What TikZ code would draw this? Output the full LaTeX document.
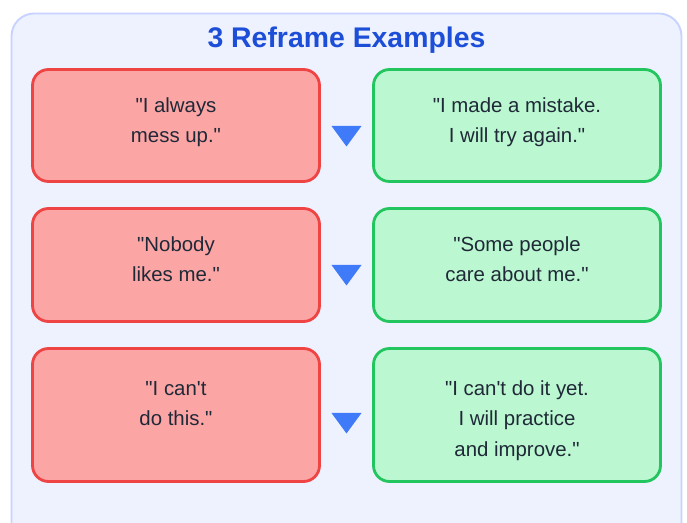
\documentclass[tikz,border=0pt]{standalone}
\usepackage{fontspec}
\setmainfont{Liberation Sans}[Ligatures=TeXOff]
\definecolor{panelfill}{HTML}{EEF2FF}
\definecolor{panelline}{HTML}{C7D2FE}
\definecolor{negfill}{HTML}{FCA5A5}
\definecolor{negline}{HTML}{EF4444}
\definecolor{posfill}{HTML}{BBF7D0}
\definecolor{posline}{HTML}{22C55E}
\definecolor{titleblue}{HTML}{1D4ED8}
\definecolor{arrowblue}{HTML}{3F7AF8}
\definecolor{bodytext}{HTML}{1F2937}
\newcommand{\firstline}{\rule{0pt}{12pt}}
\tikzset{
  card/.style={rounded corners=12pt, line width=2.1pt, minimum width=215.25pt,
    inner sep=0pt},
  negcard/.style={card, fill=negfill, draw=negline},
  poscard/.style={card, fill=posfill, draw=posline},
  cardtext/.style={anchor=north, align=center, inner sep=0pt, text=bodytext,
    font=\fontsize{15.3}{22.9}\selectfont},
  pointer/.style={fill=arrowblue, draw=none},
}
\begin{document}
\begin{tikzpicture}[x=0.75pt, y=-0.75pt]
\useasboundingbox (0,0) rectangle (687,523);
% background panel
\draw[fill=panelfill, draw=panelline, line width=1.4pt, rounded corners=17pt]
  (11.5,13.5) rectangle (681.5,560);
\node[anchor=base, font=\fontsize{21.3}{26}\selectfont\bfseries, text=titleblue]
  (title) at (346.5,48) {3 Reframe Examples};
% left column: unhelpful thoughts
\node[negcard, minimum height=84pt]    (n1) at (176,125.5) {};
\node[negcard, minimum height=84.75pt] (n2) at (176,265)   {};
\node[negcard, minimum height=99.75pt] (n3) at (176,415)   {};
\node[cardtext] (n1t) at (176,96)  {\firstline"I always\\mess up."};
\node[cardtext] (n2t) at (176,235) {\firstline"Nobody\\likes me."};
\node[cardtext] (n3t) at (176,379) {\firstline"I can't\\do this."};
% right column: reframed thoughts
\node[poscard, minimum height=84pt]    (p1) at (517,125.5) {};
\node[poscard, minimum height=84.75pt] (p2) at (517,265)   {};
\node[poscard, minimum height=99.75pt] (p3) at (517,415)   {};
\node[cardtext] (p1t) at (517,96)  {\firstline"I made a mistake.\\I will try again."};
\node[cardtext] (p2t) at (517,235) {\firstline"Some people\\care about me."};
\node[cardtext] (p3t) at (517,379) {\firstline"I can't do it yet.\\I will practice\\and improve."};
% pointers between the columns
\foreach \i/\yy in {1/126, 2/265, 3/413} {
  \fill[pointer] (331.5,\yy) coordinate (t\i) -- (361.5,\yy) -- (346.5,\yy+20.5) -- cycle;
}
\end{tikzpicture}
\end{document}
